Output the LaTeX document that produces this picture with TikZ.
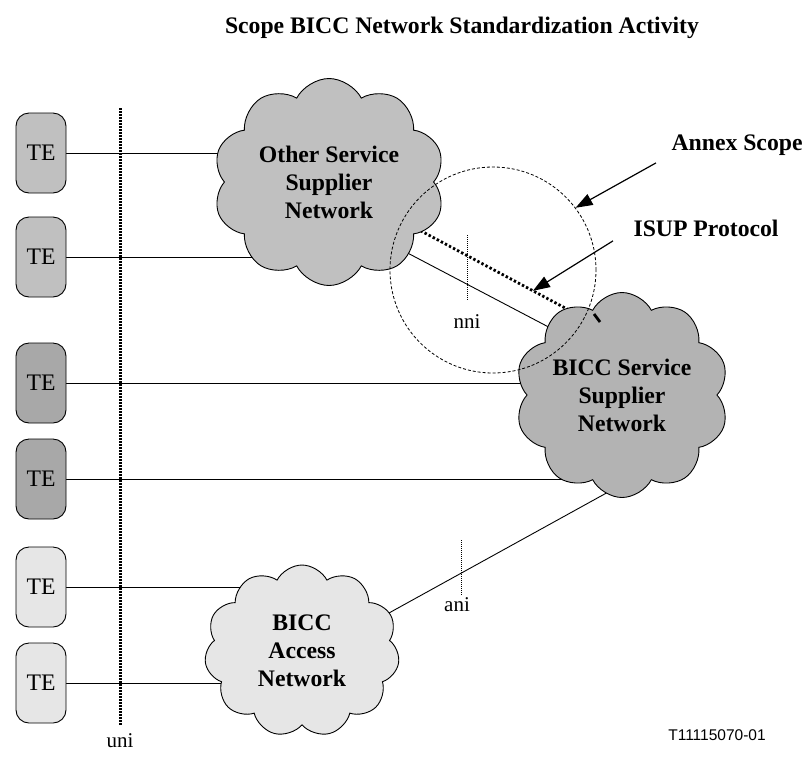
\documentclass[tikz,border=0pt]{standalone}
\usepackage{fontspec}
\setmainfont{Liberation Serif}
\newfontfamily\sansf{Liberation Sans}
\usetikzlibrary{shapes.symbols,arrows.meta,calc,backgrounds}
\definecolor{gA}{HTML}{C0C0C0}
\definecolor{gB}{HTML}{B3B3B3}
\definecolor{gC}{HTML}{A8A8A8}
\definecolor{gD}{HTML}{E6E6E6}
\newcommand\fBig{\fontsize{23.7}{28}\selectfont}
\newcommand\fLbl{\fontsize{21}{25}\selectfont}
\newcommand\fSml{\fontsize{15.5}{18}\selectfont}
\begin{document}
\begin{tikzpicture}[x=1pt,y=-1pt,
  tebox/.style={draw, line width=0.9pt, rounded corners=13pt, minimum width=50pt, minimum height=80pt, inner sep=0pt, font=\fBig},
  cloudn/.style={cloud, cloud puffs=10, cloud puff arc=125, cloud ignores aspect, draw, line width=0.9pt, inner sep=0pt, align=center, font=\fBig\bfseries},
  conn/.style={line width=0.9pt},
  unidot/.style={line width=3pt, dash pattern=on 2pt off 1pt},
  protodot/.style={line width=2.8pt, dash pattern=on 2.4pt off 2.2pt},
  tickdot/.style={line width=0.6pt, dash pattern=on 1pt off 1pt},
  scopecirc/.style={circle, draw, line width=0.8pt, dash pattern=on 3pt off 2pt, minimum size=206pt, inner sep=0pt},
  pointer/.style={line width=1.2pt, -{Triangle[length=17pt,width=12pt]}},
  lbl/.style={font=\fLbl, inner sep=1pt},
  callout/.style={font=\fBig\bfseries, anchor=west}
]
\useasboundingbox (0,0) rectangle (803,756);

% title
\node[font=\fBig\bfseries] (title) at (462,28) {Scope BICC Network Standardization Activity};

% clouds
\node[cloudn, fill=gA, minimum width=232pt, minimum height=207pt] (other) at (329,182) {Other Service\\Supplier\\Network};
\node[cloudn, fill=gB, minimum width=214pt, minimum height=205pt] (bicc) at (622,395) {BICC Service\\Supplier\\Network};
\node[cloudn, cloud puffs=11, fill=gD, minimum width=195pt, minimum height=172pt] (access) at (302,651) {BICC\\Access\\Network};

% terminals
\node[tebox, fill=gA] (te1) at (41,153) {TE};
\node[tebox, fill=gA] (te2) at (41,257) {TE};
\node[tebox, fill=gC] (te3) at (41,383) {TE};
\node[tebox, fill=gC] (te4) at (41,479) {TE};
\node[tebox, fill=gD] (te5) at (41,587) {TE};
\node[tebox, fill=gD] (te6) at (41,683) {TE};

% protocol line end points (inside the clouds)
\coordinate (pa) at ([shift={(51,27)}]other.center);
\coordinate (pb) at ([shift={(-12,-63)}]bicc.center);

\begin{pgfonlayer}{background}
  \draw[conn] (te1.east) -- (te1.east -| other.center);
  \draw[conn] (te2.east) -- (te2.east -| other.center);
  \draw[conn] (te3.east) -- (te3.east -| bicc.center);
  \draw[conn] (te4.east) -- (te4.east -| bicc.center);
  \draw[conn] (te5.east) -- (te5.east -| access.center);
  \draw[conn] (te6.east) -- (te6.east -| access.center);
  \draw[conn] ([shift={(50,56)}]other.center) -- ([shift={(-22,-41)}]bicc.center);
  \draw[conn] ([shift={(38,-11)}]access.center) -- ([shift={(8,85)}]bicc.center);
  \draw[protodot] (pa) -- (pb);
\end{pgfonlayer}

% small dash of the protocol line on the BICC cloud
\draw[line width=2.8pt] ([shift={(-28,-81)}]bicc.center) -- ([shift={(-22,-73)}]bicc.center);

% annex scope circle
\node[scopecirc] (scope) at (493,270) {};

% interface marks and labels
\draw[unidot] (120,108) -- (120,725);
\node[lbl] (uni) at (120,741) {uni};
\draw[tickdot] (467,235) -- (467,300);
\node[lbl] (nni) at (467,322) {nni};
\draw[tickdot] (461,540) -- (461,595);
\node[lbl] (ani) at (457,605) {ani};

% callouts
\node[callout] (annex) at (668,145) {Annex Scope};
\node[callout] (isup) at (630,228) {ISUP Protocol};
\draw[pointer] ([shift={(-12,4)}]annex.south west) -- (scope.37);
\draw[pointer] ([shift={(-17,1)}]isup.south west) -- ($(pa)!0.665!(pb)$);

% figure id
\node[font=\sansf\fSml] (figid) at (717,735) {T11115070-01};
\end{tikzpicture}
\end{document}
